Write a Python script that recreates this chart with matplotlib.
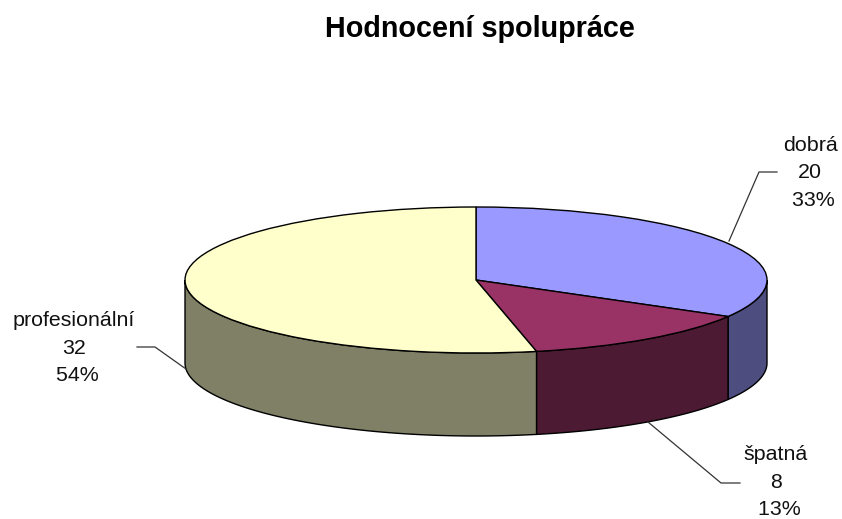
import numpy as np
import matplotlib

matplotlib.use("Agg")
import matplotlib.pyplot as plt

plt.rcParams["font.family"] = ["Liberation Sans", "DejaVu Sans"]

title = "Hodnocení spolupráce"
categories = ["dobrá", "špatná", "profesionální"]
values = [20, 8, 32]
percents = ["33%", "13%", "54%"]

top_colors = ["#9999FF", "#993366", "#FFFFCC"]
side_colors = ["#4D4D80", "#4D1A33", "#808066"]

W, H = 842, 519
# pie ellipse in pixels
left, right, top, bottom = 185, 767, 207, 353
depth_px = 83
depth = depth_px / ((bottom - top) / 2)

# where the labels and their leader lines go, pixels
label_pos = [(810, 173), (776, 482), (74, 348)]
leaders = [
    ([777, 759, 729], [172, 172, 241]),
    ([740, 721, 648], [483, 483, 422]),
    ([137, 155, 186], [347, 347, 369]),
]


def plot_walls(ax, vals):
    # only the front half of the rim can be seen (90 to 270 deg clockwise from top)
    edges = np.cumsum([0] + list(vals)) / sum(vals) * 360
    for i, color in enumerate(side_colors):
        start, end = max(edges[i], 90), min(edges[i + 1], 270)
        if end <= start:
            continue
        t = np.radians(np.linspace(start, end, 80))
        xs = np.r_[np.sin(t), np.sin(t)[::-1]]
        ys = np.r_[np.cos(t), np.cos(t)[::-1] - depth]
        ax.fill(xs, ys, facecolor=color, edgecolor="black", lw=1, zorder=1, clip_on=False)


fig = plt.figure(figsize=(W / 100, H / 100), dpi=100)

ax = fig.add_axes(
    [left / W, (H - bottom - depth_px) / H, (right - left) / W, (bottom - top + depth_px) / H]
)
wedges, _ = ax.pie(
    values,
    colors=top_colors,
    startangle=90,
    counterclock=False,
    radius=1,
    wedgeprops={"edgecolor": "black", "linewidth": 1, "zorder": 2, "clip_on": False},
)
plot_walls(ax, values)
ax.set_aspect("auto")
ax.set_xlim(-1, 1)
ax.set_ylim(-1 - depth, 1)
ax.axis("off")

# overlay in pixel coordinates for text and leader lines
over = fig.add_axes([0, 0, 1, 1])
over.set_xlim(0, W)
over.set_ylim(H, 0)
over.axis("off")
over.patch.set_alpha(0)

for name, val, pct, (x, y), (lx, ly) in zip(categories, values, percents, label_pos, leaders):
    over.text(
        x, y, f"{name}\n{val}\n {pct}",
        ha="center", va="center", ma="center",
        fontsize=15.4, linespacing=1.56, color="#111111",
    )
    over.plot(lx, ly, color="#333333", lw=0.9)

over.text(480, 29, title, ha="center", va="center", fontsize=20.7, fontweight="bold")

fig.savefig("out.png", dpi=100)
